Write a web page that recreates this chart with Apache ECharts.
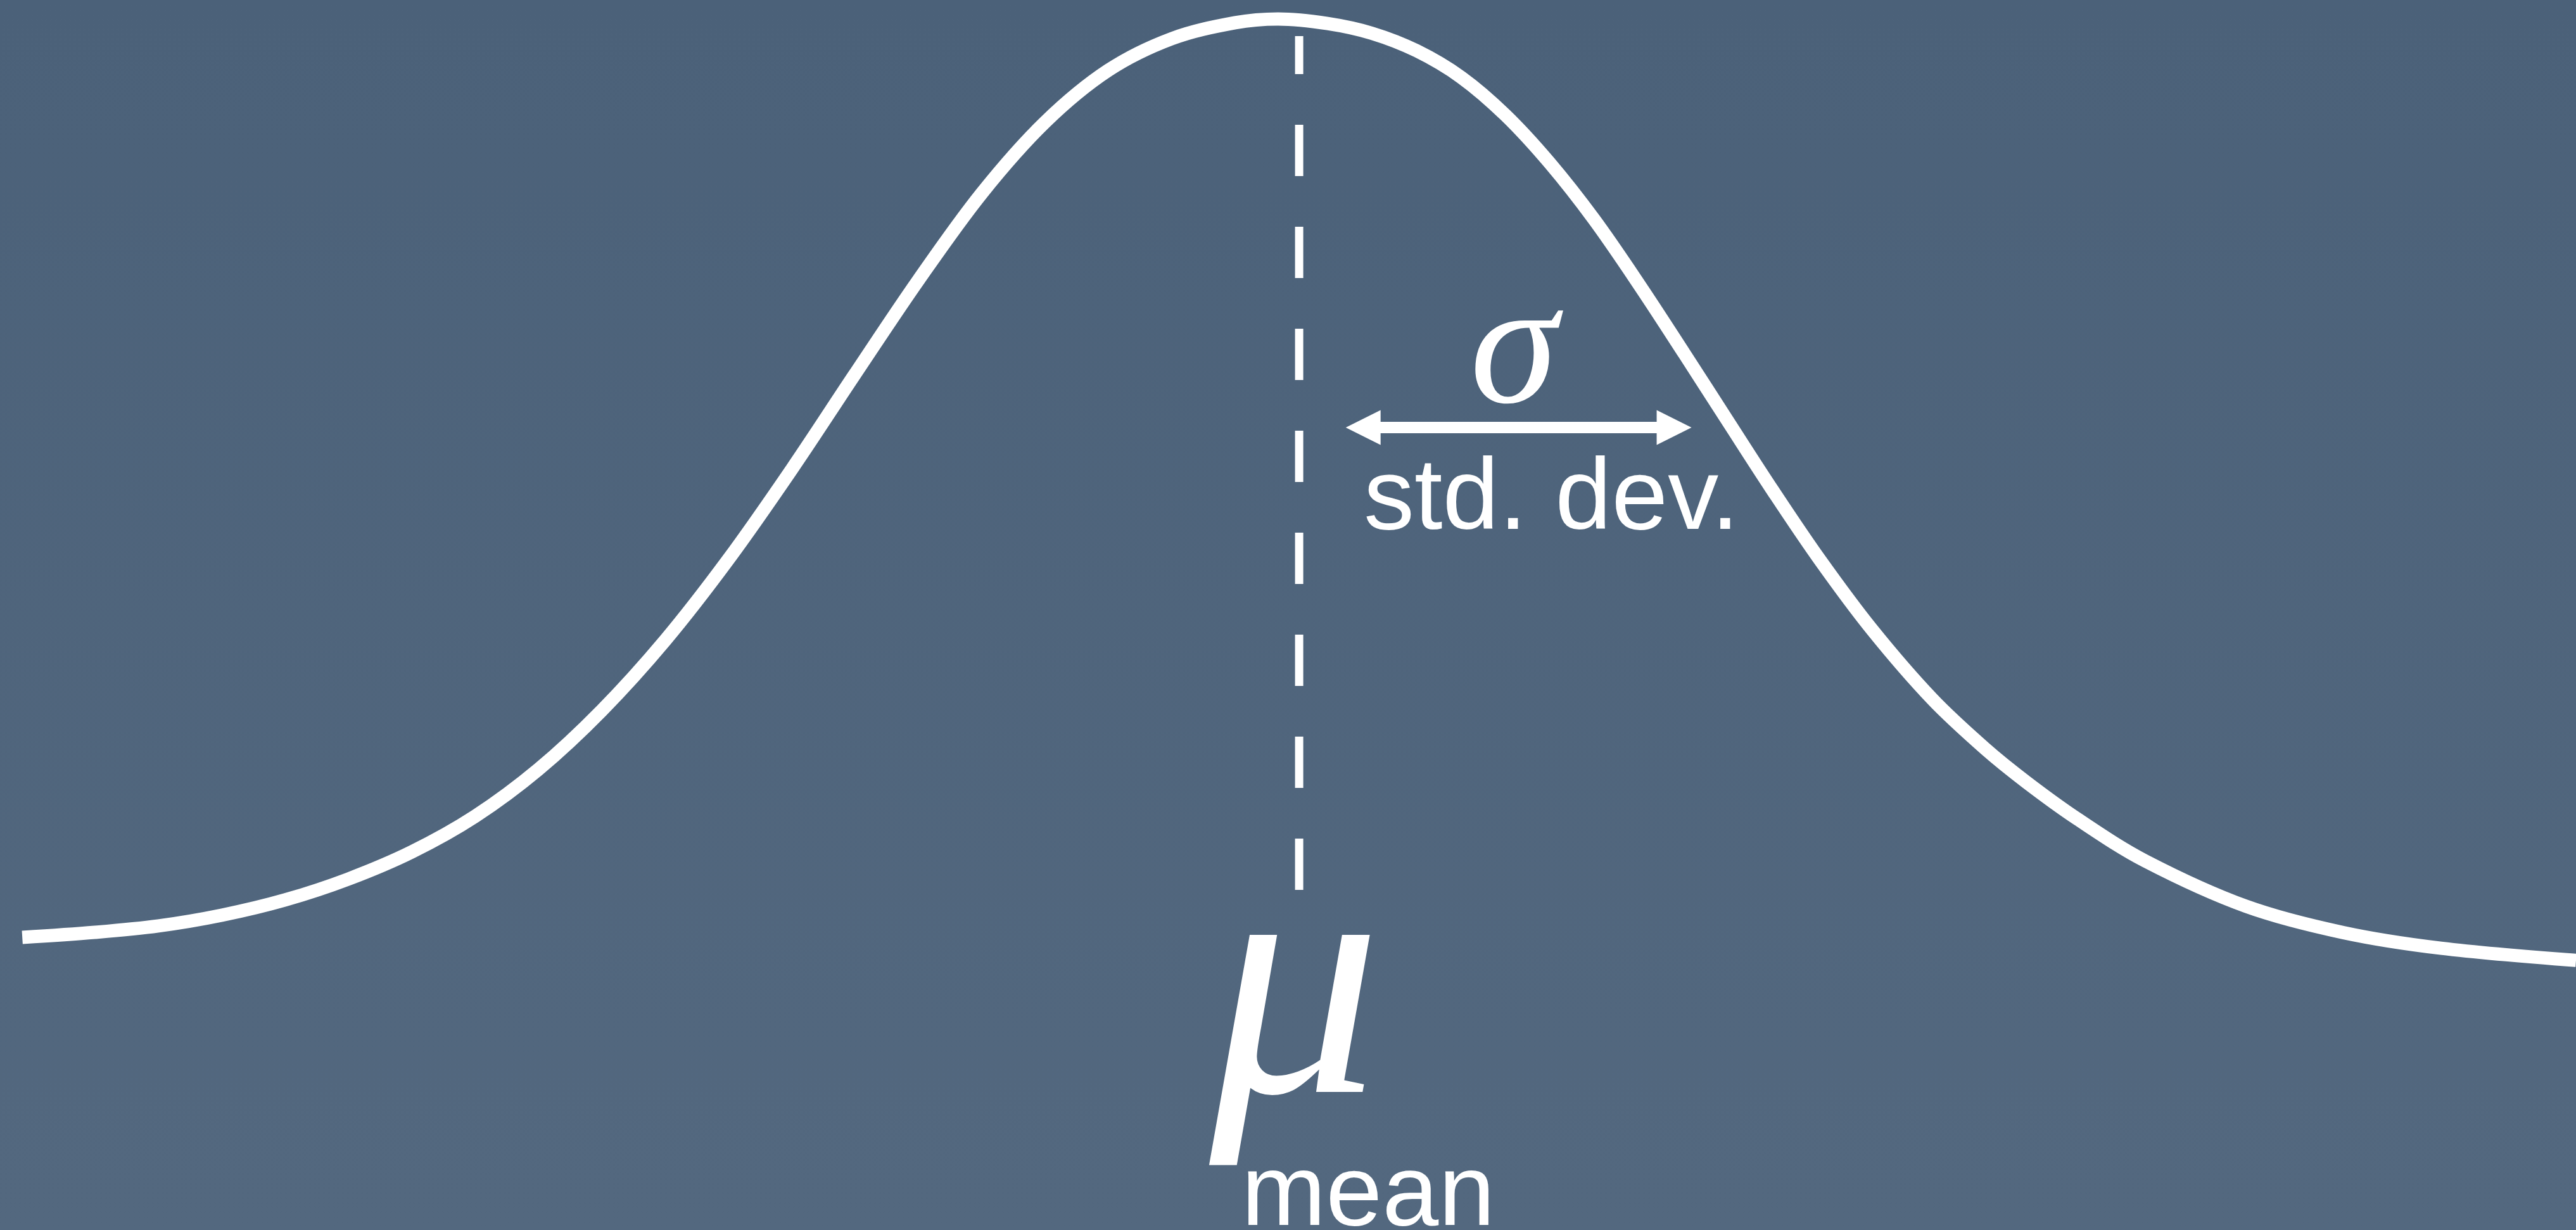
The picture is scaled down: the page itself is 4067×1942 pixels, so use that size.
<!DOCTYPE html>
<html>
<head>
<meta charset="utf-8">
<script src="https://cdn.jsdelivr.net/npm/echarts@6/dist/echarts.min.js"></script>
<style>
  html, body { margin: 0; padding: 0; width: 100%; height: 100%; overflow: hidden; }
  body { background: linear-gradient(to bottom, #4b6179 0%, #53687f 100%); }
  #chart { width: 4067px; height: 1942px; }
</style>
</head>
<body>
<div id="chart"></div>
<script>
// x in units of standard deviations from the mean, y in % of chart height
const curveX = [-3.150, -2.971, -2.814, -2.658, -2.502, -2.346, -2.189, -2.033, -1.877, -1.721,
  -1.564, -1.408, -1.252, -1.096, -0.939, -0.783, -0.627, -0.471, -0.314, -0.158,
  -0.052, 0.070, 0.179, 0.290, 0.400, 0.509, 0.618, 0.728,
  0.840, 0.951, 1.061, 1.167, 1.284, 1.414, 1.562, 1.692, 1.795, 1.920,
  2.087, 2.336, 2.576, 2.817, 3.150];
const curveY = [23.79, 24.20, 24.72, 25.59, 26.83, 28.53, 30.74, 33.63, 37.44, 42.22,
  47.94, 54.53, 61.84, 69.57, 77.24, 84.29, 90.06, 94.28, 96.86, 98.15,
  98.46, 98.09, 97.30, 95.87, 93.71, 90.64, 86.75, 82.14,
  76.80, 71.21, 65.58, 60.19, 54.51, 48.78, 43.16, 39.14, 36.39, 33.42,
  30.01, 26.32, 24.18, 22.91, 21.92];
const meanX = 0.0;
const meanLineY = [97.07, 27.55];
const sigmaArrowX = [0.158, 0.925];
const sigmaArrowY = 65.24;
const labels = { sigma: 'σ', sigmaText: 'std. dev.', mu: 'μ', muText: 'mean' };

const chart = echarts.init(document.getElementById('chart'), null, { renderer: 'canvas' });
const curveData = curveX.map((x, i) => [x, curveY[i]]);
const meanData = meanLineY.map(y => [meanX, y]);

chart.setOption({
  animation: false,
  backgroundColor: 'transparent',
  grid: { left: 0, right: 0, top: 0, bottom: 0 },
  xAxis: { type: 'value', min: -3.205, max: 3.15, show: false, splitLine: { show: false } },
  yAxis: { type: 'value', min: 0, max: 100, show: false, splitLine: { show: false } },
  series: [
    {
      type: 'line',
      data: curveData,
      smooth: 0.34,
      showSymbol: false,
      symbol: 'none',
      lineStyle: { color: '#ffffff', width: 21, cap: 'butt', join: 'round' },
      silent: true
    },
    {
      type: 'line',
      data: meanData,
      showSymbol: false,
      symbol: 'none',
      lineStyle: { color: '#ffffff', width: 13, type: [81, 80], dashOffset: 21, cap: 'butt' },
      silent: true,
      markLine: {
        silent: true,
        symbol: ['triangle', 'triangle'],
        symbolSize: [55, 55],
        label: { show: false },
        lineStyle: { color: '#ffffff', width: 18, type: 'solid' },
        emphasis: { disabled: true },
        data: [[
          { coord: [sigmaArrowX[0], sigmaArrowY] },
          { coord: [sigmaArrowX[1], sigmaArrowY] }
        ]]
      }
    }
  ],
  graphic: [
    {
      type: 'text', silent: true,
      style: { text: labels.sigma, x: 2390, y: 561, fill: '#ffffff',
        font: 'italic 280px "Liberation Serif"', align: 'center', verticalAlign: 'middle' }
    },
    {
      type: 'text', silent: true,
      style: { text: labels.sigmaText, x: 2153, y: 791, fill: '#ffffff',
        font: '160px "Liberation Sans"', align: 'left', verticalAlign: 'middle' }
    },
    {
      type: 'text', silent: true,
      style: { text: labels.mu, x: 2045, y: 1582, fill: '#ffffff',
        font: 'italic 540px "Liberation Serif"', align: 'center', verticalAlign: 'middle' }
    },
    {
      type: 'text', silent: true,
      style: { text: labels.muText, x: 2160, y: 1890, fill: '#ffffff',
        font: '160px "Liberation Sans"', align: 'center', verticalAlign: 'middle' }
    }
  ]
});
</script>
</body>
</html>
